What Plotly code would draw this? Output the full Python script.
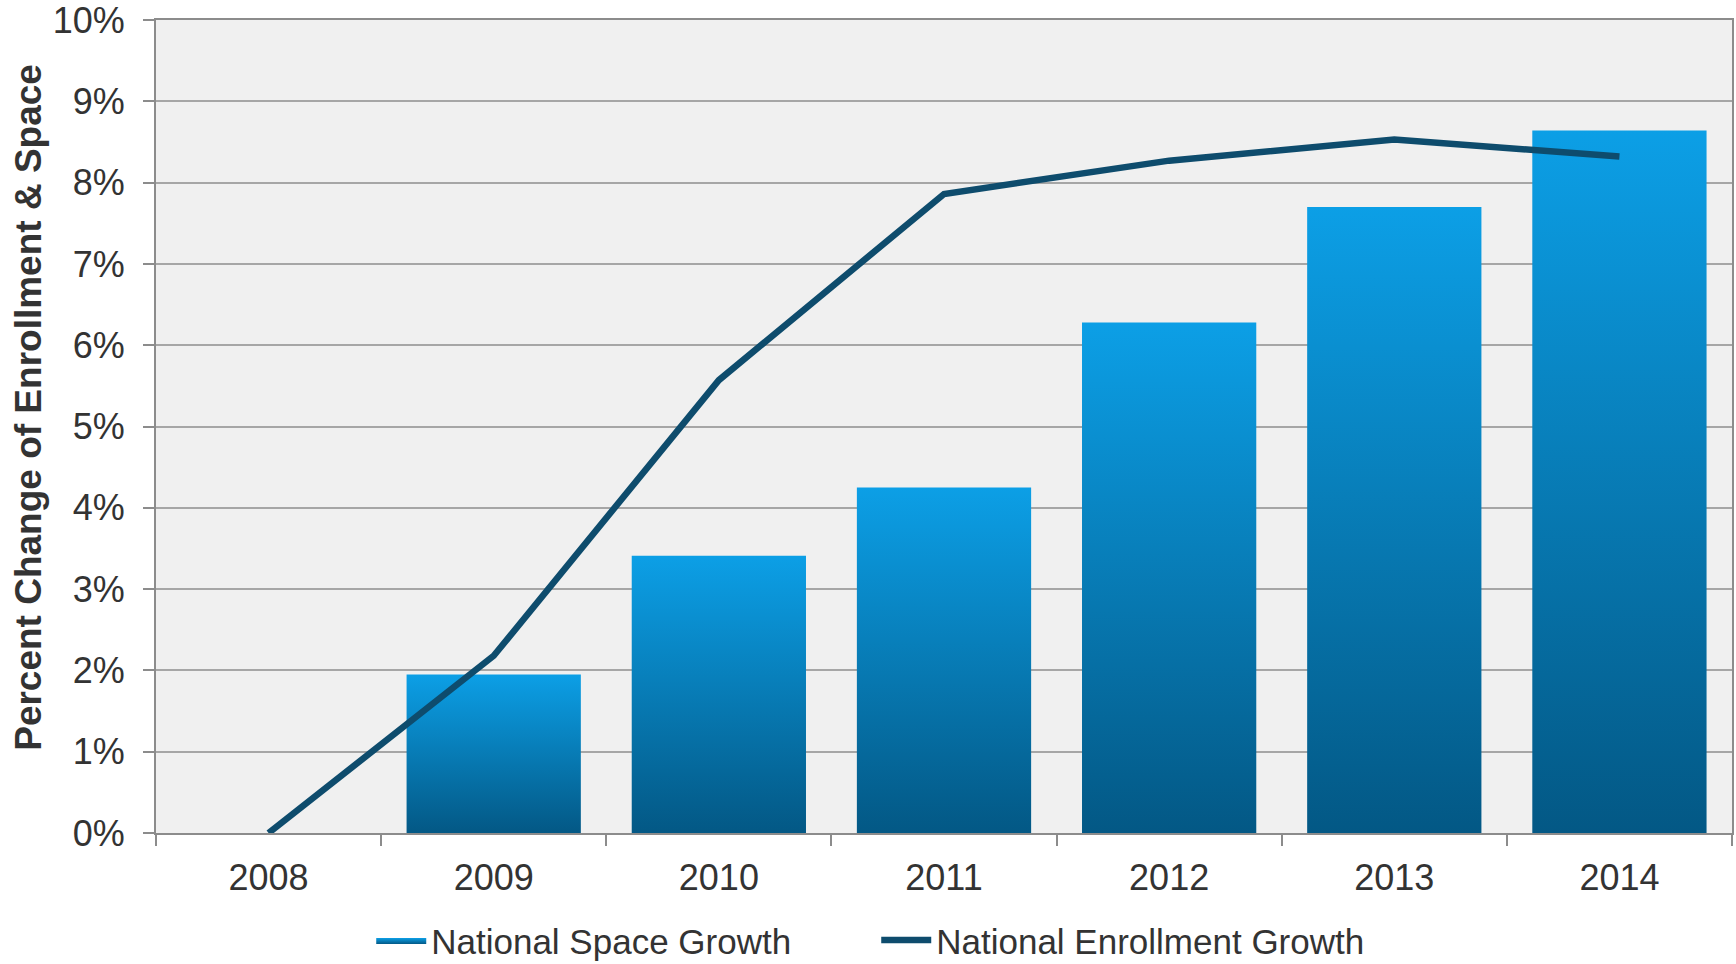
import plotly.graph_objects as go

years = [2008, 2009, 2010, 2011, 2012, 2013, 2014]
space_growth = [None, 1.95, 3.41, 4.25, 6.28, 7.70, 8.64]
enrollment_growth = [0.0, 2.18, 5.57, 7.86, 8.27, 8.53, 8.32]
y_ticks = list(range(0, 11))
y_tick_labels = [f"{v}%" for v in y_ticks]

BAR_WIDTH = 0.774
BAR_TOP = "#0C9FE6"
BAR_BOTTOM = "#035885"
LINE_COLOR = "#0E4C6D"
TEXT_COLOR = "#333333"
GRID_COLOR = "#A6A6A6"
AXIS_COLOR = "#8C8C8C"
FONT = "Liberation Sans, Arial, sans-serif"

fig = go.Figure()

# Each bar is a filled rectangle so it can carry its own vertical gradient
first = True
for yr, val in zip(years, space_growth):
    if val is None:
        continue
    half = BAR_WIDTH / 2
    fig.add_trace(go.Scatter(
        x=[yr - half, yr + half, yr + half, yr - half, yr - half],
        y=[0, 0, val, val, 0],
        mode="lines",
        line=dict(width=0),
        fill="toself",
        fillgradient=dict(
            type="vertical",
            colorscale=[[0, BAR_BOTTOM], [1, BAR_TOP]],
        ),
        name="National Space Growth",
        legendgroup="space",
        showlegend=first,
        hoverinfo="x+y",
    ))
    first = False

fig.add_trace(go.Scatter(
    x=years,
    y=enrollment_growth,
    mode="lines",
    line=dict(color=LINE_COLOR, width=6.5),
    name="National Enrollment Growth",
))

# Vertical axis title, placed as a rotated annotation left of the tick labels
fig.add_annotation(
    text="<b>Percent Change of Enrollment & Space</b>",
    textangle=-90,
    xref="paper", yref="paper",
    x=0, y=0.523,
    xshift=-127,
    xanchor="center", yanchor="middle",
    showarrow=False,
    font=dict(size=37, color=TEXT_COLOR),
)

fig.update_layout(
    width=1736,
    height=964,
    margin=dict(l=156, r=4, t=20, b=131, autoexpand=False),
    paper_bgcolor="white",
    plot_bgcolor="#F0F0F0",
    font=dict(family=FONT, size=36, color=TEXT_COLOR),
    showlegend=True,
    legend=dict(
        orientation="h",
        x=0.457,
        xanchor="center",
        y=-0.132,
        yanchor="middle",
        font=dict(size=35, color=TEXT_COLOR),
        itemwidth=50,
        entrywidth=440,
        entrywidthmode="pixels",
        bgcolor="rgba(0,0,0,0)",
    ),
    xaxis=dict(
        range=[2007.5, 2014.5],
        tickvals=years,
        ticktext=[str(y) for y in years],
        ticks="",
        ticklabelstandoff=12,
        showgrid=False,
        zeroline=False,
        showline=True,
        linecolor=AXIS_COLOR,
        linewidth=2,
        mirror=True,
        tickfont=dict(size=36, color=TEXT_COLOR),
        minor=dict(
            tick0=2007.5,
            dtick=1,
            ticks="outside",
            ticklen=11,
            tickwidth=2,
            tickcolor=AXIS_COLOR,
            showgrid=False,
        ),
    ),
    yaxis=dict(
        range=[0, 10],
        tickvals=y_ticks,
        ticktext=y_tick_labels,
        ticks="outside",
        ticklen=11,
        tickwidth=2,
        tickcolor=AXIS_COLOR,
        ticklabelstandoff=11,
        ticklabeloverflow="allow",
        showgrid=True,
        gridcolor=GRID_COLOR,
        gridwidth=2,
        zeroline=False,
        showline=True,
        linecolor=AXIS_COLOR,
        linewidth=2,
        mirror=True,
        tickfont=dict(size=36, color=TEXT_COLOR),
    ),
)

fig.write_html("out.html")
